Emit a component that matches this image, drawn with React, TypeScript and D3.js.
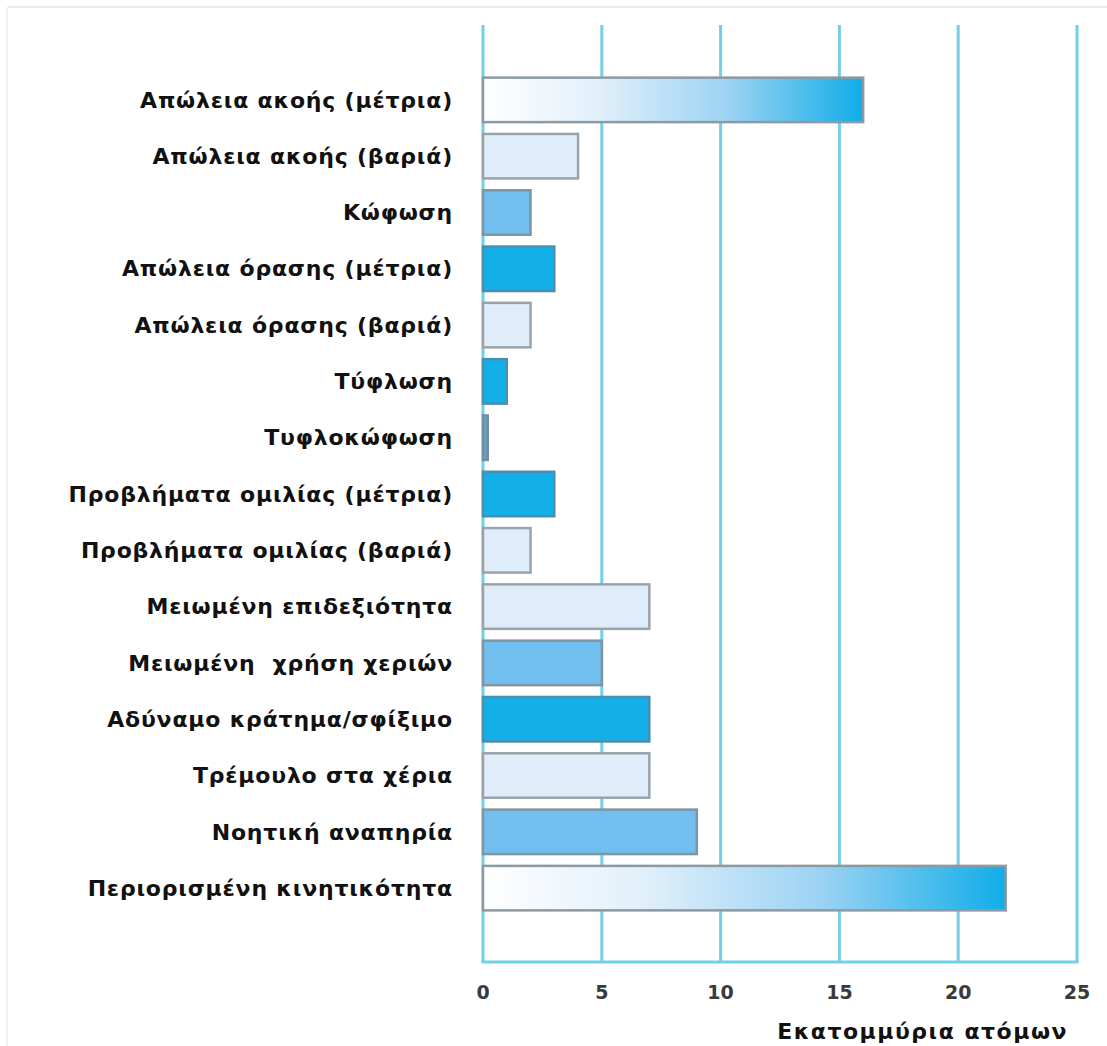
import React from 'react'
import * as d3 from 'd3'

const categories = [
  'Απώλεια ακοής (μέτρια)',
  'Απώλεια ακοής (βαριά)',
  'Κώφωση',
  'Απώλεια όρασης (μέτρια)',
  'Απώλεια όρασης (βαριά)',
  'Τύφλωση',
  'Τυφλοκώφωση',
  'Προβλήματα ομιλίας (μέτρια)',
  'Προβλήματα ομιλίας (βαριά)',
  'Μειωμένη επιδεξιότητα',
  'Μειωμένη  χρήση χεριών',
  'Αδύναμο κράτημα/σφίξιμο',
  'Τρέμουλο στα χέρια',
  'Νοητική αναπηρία',
  'Περιορισμένη κινητικότητα',
]
const millions = [16, 4, 2, 3, 2, 1, 0.2, 3, 2, 7, 5, 7, 7, 9, 22]
const tickValues = [0, 5, 10, 15, 20, 25]
const axisTitle = 'Εκατομμύρια ατόμων'

// look of each bar, in category order
const tones = ['grad', 'light', 'mid', 'dark', 'light', 'dark', 'tiny', 'dark', 'light', 'light', 'mid', 'dark', 'light', 'mid', 'grad']

const toneStyle = {
  grad: { fill: 'url(#barGrad)', stroke: '#8d9aa3' },
  light: { fill: '#deedf9', stroke: '#9aa3a9' },
  mid: { fill: '#70bfee', stroke: '#7f95a3' },
  dark: { fill: '#12afe9', stroke: '#4a8fae' },
  tiny: { fill: '#6f9fbf', stroke: '#6f8fa6' },
}

const width = 1107
const height = 1046
const left = 483
const right = 1077
const top = 25
const bottom = 962
const grid = '#72cfe6'
const labelFont = '"DejaVu Sans", sans-serif'

export default function App() {
  const x = d3.scaleLinear().domain([0, 25]).range([left, right])
  const y = d3.scaleBand().domain(categories).range([72, 916]).paddingInner(0.21).paddingOuter(0.1)

  return (
    <svg width={width} height={height} style={{ position: 'absolute', top: 0, left: 0, background: '#fff' }}>
      <defs>
        <linearGradient id="barGrad" x1="0" x2="1" y1="0" y2="0">
          <stop offset="0" stopColor="#ffffff" />
          <stop offset="0.3" stopColor="#e2f0fa" />
          <stop offset="0.65" stopColor="#9ad2f3" />
          <stop offset="1" stopColor="#10ade8" />
        </linearGradient>
      </defs>

      <line x1={8} x2={width} y1={7} y2={7} stroke="#e4e4e4" strokeWidth={1.5} />
      <line x1={7} x2={7} y1={7} y2={height} stroke="#ececec" strokeWidth={1.5} />

      {tickValues.map((t) => (
        <line key={t} x1={x(t)} x2={x(t)} y1={top} y2={bottom} stroke={grid} strokeWidth={3} />
      ))}
      <line x1={left - 1.5} x2={right + 1.5} y1={bottom} y2={bottom} stroke={grid} strokeWidth={3} />

      {categories.map((c, i) => {
        const s = toneStyle[tones[i]]
        return (
          <rect
            key={c}
            x={x(0)}
            y={y(c)}
            width={x(millions[i]) - x(0)}
            height={y.bandwidth()}
            fill={s.fill}
            stroke={s.stroke}
            strokeWidth={2.5}
          />
        )
      })}

      {categories.map((c) => (
        <text
          key={c}
          x={453}
          y={y(c)! + y.bandwidth() / 2}
          dy="0.35em"
          textAnchor="end"
          fontFamily={labelFont}
          fontWeight="bold"
          fontSize={22}
          letterSpacing={0.8}
          fill="#111"
          style={{ whiteSpace: 'pre' }}
        >
          {c}
        </text>
      ))}

      {tickValues.map((t) => (
        <text
          key={t}
          x={x(t)}
          y={992}
          dy="0.35em"
          textAnchor="middle"
          fontFamily={labelFont}
          fontWeight="bold"
          fontSize={19}
          fill="#3a3a3a"
        >
          {t}
        </text>
      ))}

      <text
        x={1068}
        y={1031}
        dy="0.35em"
        textAnchor="end"
        fontFamily={labelFont}
        fontWeight="bold"
        fontSize={22}
        letterSpacing={1.5}
        fill="#111"
      >
        {axisTitle}
      </text>
    </svg>
  )
}
